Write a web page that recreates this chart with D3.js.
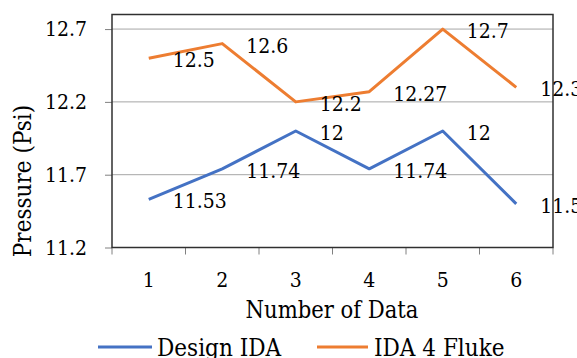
<!DOCTYPE html>
<html><head><meta charset="utf-8">
<script src="https://cdn.jsdelivr.net/npm/d3@7"></script>
<style>body{margin:0;background:#fff}svg{display:block}svg text{font-family:'DejaVu Serif Condensed','DejaVu Serif' !important;font-stretch:condensed}</style>
</head><body>
<svg id="c" width="577" height="358"></svg>
<script>
const categories = [1, 2, 3, 4, 5, 6];
const designIDA = [11.53, 11.74, 12, 11.74, 12, 11.5];
const ida4Fluke = [12.5, 12.6, 12.2, 12.27, 12.7, 12.3];
const yTicks = [11.2, 11.7, 12.2, 12.7];
const seriesNames = ["Design IDA", "IDA 4 Fluke"];
const colors = ["#4472C4", "#ED7D31"];

const svg = d3.select("#c");
const L = 112, R = 553, T = 14.5, B = 247.5;
const x = d3.scaleBand().domain(categories).range([L, R]);
const y = d3.scaleLinear().domain([11.2, 12.8]).range([B, T]);

svg.append("g").selectAll("line").data(yTicks).join("line")
  .attr("x1", L).attr("x2", R).attr("y1", d => y(d)).attr("y2", d => y(d))
  .attr("stroke", "#a6a6a6").attr("stroke-width", 1);

const ya = svg.append("g").attr("transform", `translate(${L},0)`)
  .call(d3.axisLeft(y).tickValues(yTicks).tickFormat(d3.format(".1f")).tickSize(7).tickPadding(18));
ya.attr("font-size", 21);
ya.select(".domain").remove();
ya.selectAll("line").attr("stroke", "#808080");
ya.selectAll("text").attr("fill", "#000");

const bounds = categories.map(c => x(c)).concat([R]);
svg.append("g").selectAll("line").data(bounds).join("line")
  .attr("x1", d => d).attr("x2", d => d).attr("y1", B).attr("y2", B + 7)
  .attr("stroke", "#808080");
svg.append("g").selectAll("text").data(categories).join("text")
  .attr("x", d => x(d) + x.bandwidth() / 2).attr("y", 287)
  .attr("text-anchor", "middle").attr("font-size", 21).text(d => d);

svg.append("rect").attr("x", L).attr("y", T).attr("width", R - L).attr("height", B - T)
  .attr("fill", "none").attr("stroke", "#303030").attr("stroke-width", 1.5);

const series = [designIDA, ida4Fluke];
const line = d3.line().x((d, i) => x(categories[i]) + x.bandwidth() / 2).y(d => y(d));
series.forEach((s, k) => {
  svg.append("path").datum(s).attr("d", line).attr("fill", "none")
    .attr("stroke", colors[k]).attr("stroke-width", 3).attr("stroke-linejoin", "round");
});

series.forEach((s, k) => {
  svg.append("g").selectAll("text").data(s).join("text")
    .attr("x", (d, i) => x(categories[i]) + x.bandwidth() / 2 + 24)
    .attr("y", d => y(d) + 9)
    .attr("font-size", 21).text(d => d);
});

svg.append("text").attr("x", (L + R) / 2 - 0.5).attr("y", 318).attr("text-anchor", "middle")
  .attr("font-size", 23.5).text("Number of Data");
svg.append("text").attr("transform", "translate(31,181) rotate(-90)").attr("text-anchor", "middle")
  .attr("font-size", 24).text("Pressure (Psi)");

const legX = [[98, 152, 157], [317, 368, 374]];
seriesNames.forEach((n, k) => {
  svg.append("line").attr("x1", legX[k][0]).attr("x2", legX[k][1]).attr("y1", 347).attr("y2", 347)
    .attr("stroke", colors[k]).attr("stroke-width", 3);
  svg.append("text").attr("x", legX[k][2]).attr("y", 356).attr("font-size", 24).text(n);
});
</script>
</body></html>
